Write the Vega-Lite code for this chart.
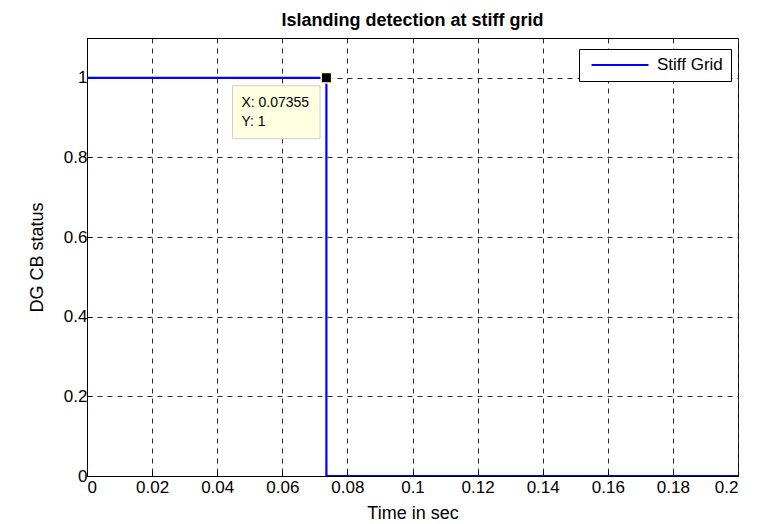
{
  "$schema": "https://vega.github.io/schema/vega-lite/v6.json",
  "width": 651,
  "height": 438,
  "autosize": {"type": "none"},
  "padding": {"left": 87, "top": 38, "right": 26, "bottom": 48},
  "background": "white",
  "title": {"text": "Islanding detection at stiff grid", "font": "Liberation Sans", "fontSize": 18, "fontWeight": "bold", "color": "black", "offset": 8},
  "config": {
    "font": "Liberation Sans",
    "view": {"stroke": "black", "strokeWidth": 1},
    "axis": {"labelFont": "Liberation Sans", "titleFont": "Liberation Sans", "labelFontSize": 17, "titleFontSize": 18, "labelColor": "black", "titleColor": "black", "titleFontWeight": "normal", "domainColor": "black", "tickColor": "black", "gridColor": "#2a2a2a", "gridDash": [5, 5], "gridOpacity": 1, "tickSize": -5}
  },
  "datasets": {
    "series": [
      {"t": 0, "status": 1, "k": 0, "series": "Stiff Grid"},
      {"t": 0.07355, "status": 1, "k": 1, "series": "Stiff Grid"},
      {"t": 0.07355, "status": 0, "k": 2, "series": "Stiff Grid"},
      {"t": 0.2, "status": 0, "k": 3, "series": "Stiff Grid"}
    ],
    "tip": [{"t": 0.07355, "status": 1, "label1": "X: 0.07355", "label2": "Y: 1"}]
  },
  "layer": [
    {
      "data": {"name": "series"},
      "mark": {"type": "line", "strokeWidth": 2.2, "clip": true},
      "encoding": {
        "x": {"field": "t", "type": "quantitative", "scale": {"domain": [0, 0.2], "nice": false, "zero": false}, "axis": {"title": "Time in sec", "values": [0, 0.02, 0.04, 0.06, 0.08, 0.1, 0.12, 0.14, 0.16, 0.18, 0.2], "format": "~g", "labelPadding": 8, "titlePadding": 9, "grid": true}},
        "y": {"field": "status", "type": "quantitative", "scale": {"domain": [0, 1.1], "nice": false}, "axis": {"title": "DG CB status", "values": [0, 0.2, 0.4, 0.6, 0.8, 1], "format": "~g", "labelPadding": 5, "titlePadding": 17, "grid": true}},
        "order": {"field": "k"},
        "color": {"field": "series", "type": "nominal", "scale": {"range": ["#0000ff"]}, "legend": {"title": null, "orient": "none", "legendX": 492, "legendY": 11, "symbolType": "stroke", "symbolSize": 3250, "symbolStrokeWidth": 2.2, "clipHeight": 16, "labelFontSize": 17, "labelFont": "Liberation Sans", "labelColor": "black", "strokeColor": "black", "fillColor": "white", "padding": 8, "labelOffset": 7, "symbolOffset": 3}}
      }
    },
    {
      "data": {"name": "tip"},
      "mark": {"type": "rect", "fill": "#ffffe1", "stroke": "#cccccc", "strokeWidth": 1},
      "encoding": {
        "x": {"datum": 0.04473, "type": "quantitative"},
        "x2": {"datum": 0.0716},
        "y": {"datum": 0.98, "type": "quantitative"},
        "y2": {"datum": 0.847}
      }
    },
    {
      "data": {"name": "tip"},
      "mark": {"type": "text", "align": "left", "baseline": "middle", "fontSize": 14, "font": "Liberation Sans", "color": "black", "dx": -85, "dy": 25},
      "encoding": {"x": {"field": "t", "type": "quantitative"}, "y": {"field": "status", "type": "quantitative"}, "text": {"field": "label1"}}
    },
    {
      "data": {"name": "tip"},
      "mark": {"type": "text", "align": "left", "baseline": "middle", "fontSize": 14, "font": "Liberation Sans", "color": "black", "dx": -85, "dy": 44},
      "encoding": {"x": {"field": "t", "type": "quantitative"}, "y": {"field": "status", "type": "quantitative"}, "text": {"field": "label2"}}
    },
    {
      "data": {"name": "tip"},
      "mark": {"type": "point", "shape": "square", "filled": true, "fill": "black", "stroke": "#ffffcc", "strokeWidth": 1.5, "size": 110, "opacity": 1},
      "encoding": {"x": {"field": "t", "type": "quantitative"}, "y": {"field": "status", "type": "quantitative"}}
    }
  ]
}
